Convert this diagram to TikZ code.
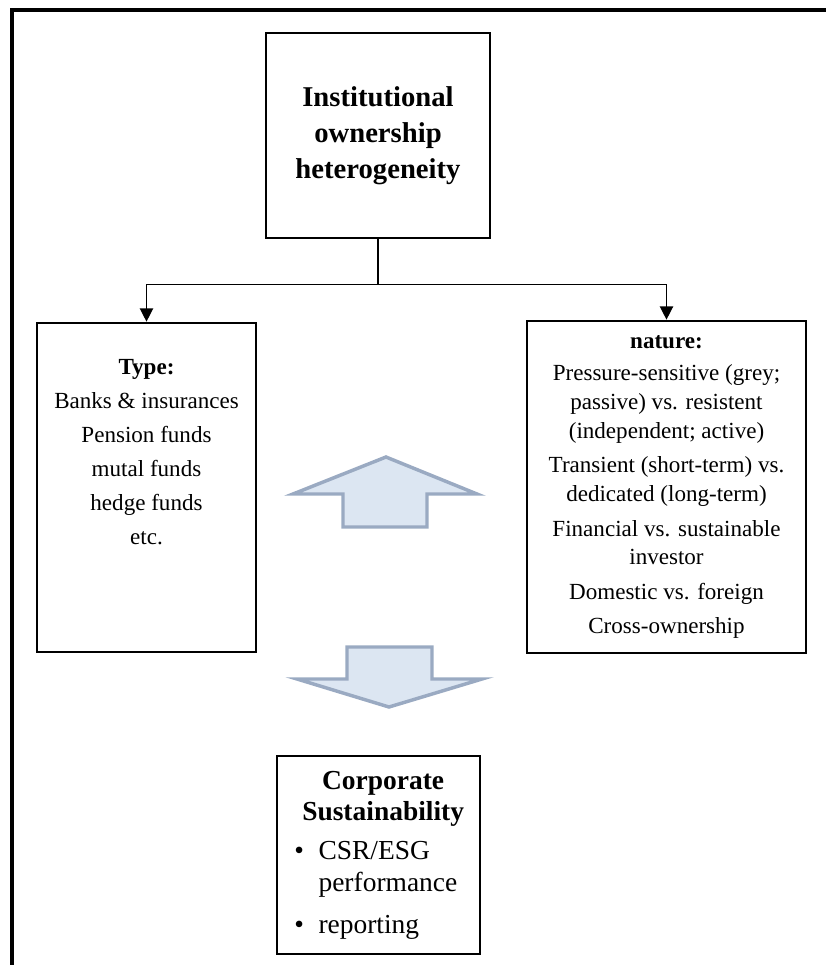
\documentclass[tikz,border=0pt]{standalone}
\usepackage{fontspec}
\setmainfont{Liberation Serif}
\usetikzlibrary{positioning, arrows.meta}
\definecolor{colorFill}{HTML}{DCE6F2}
\definecolor{colorEdge}{HTML}{9AAAC2}
\newcommand{\titlefont}{\fontsize{21.5}{27}\selectfont\bfseries}
\newcommand{\bodyfont}{\fontsize{17.3}{21.5}\selectfont}
\newcommand{\csfont}{\fontsize{20.6}{23.5}\selectfont}
\tikzset{
  box/.style={draw, line width=2pt, inner sep=0pt, align=center},
  link/.style={line width=1pt, -{Triangle[length=10pt,width=10pt]}},
  bigarrow/.style={fill=colorFill, draw=colorEdge, line width=2.6pt, line join=miter}
}

\begin{document}
\begin{tikzpicture}[x=0.75pt, y=-0.75pt]
        \useasboundingbox (0,0) rectangle (826,965);
        \draw[line width=2.5pt] (12,965) -- (12,10) -- (826,10);

        \node[box, minimum width=168pt, minimum height=153.75pt, font=\titlefont] (inst) at (378,135.5) {Institutional\\ownership\\heterogeneity};

        \node[box, minimum width=164.25pt, minimum height=246.75pt] (typebox) at (146.5,487.5) {};
        \node[below=28pt of typebox.north, align=center, inner sep=0pt, font=\bodyfont] (typetext) {\textbf{Type:}\\[4pt] Banks \& insurances\\[4pt] Pension funds\\[4pt] mutal funds\\[4pt] hedge funds\\[4pt] etc.};

        \node[box, minimum width=209.25pt, minimum height=249pt, font=\bodyfont] (naturebox) at (666.5,487) {\textbf{nature:}\\[2.5pt] Pressure-sensitive (grey;\\ passive) vs. resistent\\ (independent; active)\\[4.5pt] Transient (short-term) vs.\\ dedicated (long-term)\\[4.5pt] Financial vs. sustainable\\ investor\\[4.5pt] Domestic vs. foreign\\[4pt] Cross-ownership};

        \coordinate[below=34pt of inst.south] (split);
        \draw[line width=1pt] (inst.south) -- (split);
        \draw[link] (split) -| (typebox.north);
        \draw[link] (split) -| (naturebox.north);

        \draw[bigarrow] (386,457) -- (477,494) -- (427,494) -- (427,527) -- (343,527) -- (343,494) -- (293,494) -- cycle;
        \draw[bigarrow] (347,647) -- (432,647) -- (432,679) -- (482,679) -- (389,707) -- (297,679) -- (347,679) -- cycle;

        \node[box, minimum width=152.25pt, minimum height=148.5pt, font=\csfont] (csbox) at (378.5,855) {\hspace*{7pt}\begin{tabular}{@{}l@{\hspace{11pt}}l@{}}
            \multicolumn{2}{c}{\textbf{Corporate}}\\
            \multicolumn{2}{c}{\textbf{Sustainability}}\\[6pt]
            \textbullet & CSR/ESG\\
                        & performance\\[8pt]
            \textbullet & reporting
        \end{tabular}};
    \end{tikzpicture}
\end{document}
